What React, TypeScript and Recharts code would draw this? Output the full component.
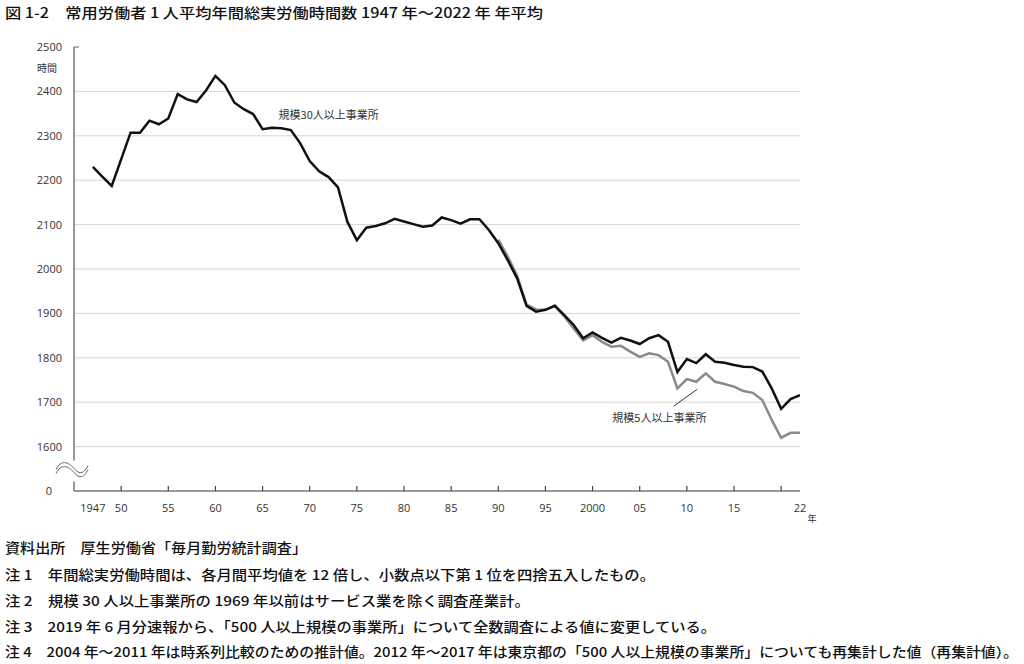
import React from "react";
import { LineChart, Line, XAxis, YAxis, ReferenceLine, ReferenceDot } from "recharts";

const years: number[] = [];
for (let y = 1947; y <= 2022; y++) years.push(y);

const large30: number[] = [
  2230, 2208, 2187, 2247, 2307, 2307, 2334, 2326, 2339, 2394,
  2382, 2376, 2402, 2435, 2414, 2375, 2360, 2349, 2315, 2318,
  2317, 2313, 2283, 2243, 2220, 2207, 2184, 2106, 2065, 2093,
  2097, 2103, 2113, 2107, 2101, 2095, 2098, 2116, 2110, 2102,
  2112, 2112, 2088, 2058, 2020, 1979, 1917, 1904, 1908, 1917,
  1896, 1874, 1844, 1857, 1845, 1834, 1845, 1839, 1831, 1844,
  1851, 1836, 1768, 1797, 1788, 1808, 1791, 1789, 1784, 1780,
  1779, 1769, 1731, 1685, 1707, 1716,
];

const small5Start = 1990;
const small5: number[] = [
  2066, 2028, 1985, 1920, 1909, 1908, 1917, 1893, 1866, 1839,
  1851, 1836, 1825, 1827, 1814, 1802, 1810, 1806, 1791, 1731,
  1752, 1746, 1765, 1746, 1741, 1735, 1725, 1721, 1705, 1660,
  1620, 1631, 1631,
];

const xTicks = [1947, 1950, 1955, 1960, 1965, 1970, 1975, 1980, 1985, 1990, 1995, 2000, 2005, 2010, 2015, 2020, 2022];
const xTickLabels: Record<number, string> = {
  1947: "1947", 1950: "50", 1955: "55", 1960: "60", 1965: "65", 1970: "70", 1975: "75",
  1980: "80", 1985: "85", 1990: "90", 1995: "95", 2000: "2000", 2005: "05", 2010: "10",
  2015: "15", 2020: "", 2022: "22",
};
const yTicks = [1500, 1600, 1700, 1800, 1900, 2000, 2100, 2200, 2300, 2400, 2500];
const gridValues = [1600, 1700, 1800, 1900, 2000, 2100, 2200, 2300, 2400];

const title = "図 1-2　常用労働者 1 人平均年間総実労働時間数 1947 年～2022 年 年平均";
const notes = [
  "資料出所　厚生労働省「毎月勤労統計調査」",
  "注 1　年間総実労働時間は、各月間平均値を 12 倍し、小数点以下第 1 位を四捨五入したもの。",
  "注 2　規模 30 人以上事業所の 1969 年以前はサービス業を除く調査産業計。",
  "注 3　2019 年 6 月分速報から、「500 人以上規模の事業所」について全数調査による値に変更している。",
  "注 4　2004 年～2011 年は時系列比較のための推計値。2012 年～2017 年は東京都の「500 人以上規模の事業所」についても再集計した値（再集計値）。",
];
const noteWidths = [302, 650, 525, 711, 1013];
const noteBaselines = [553, 580, 606, 632, 657];

const data = years.map((y, i) => ({
  year: y,
  large: large30[i],
  small: y >= small5Start ? small5[y - small5Start] : null,
}));

const NUM_FONT = '"Open Sans", "Noto Sans CJK JP", sans-serif';
const JP_FONT = '"Noto Sans CJK JP", sans-serif';

const XTick = (props: any) => {
  const { x, y, payload } = props;
  const v = payload.value as number;
  const showTick = v % 5 === 0;
  return (
    <g>
      {showTick && <line x1={x} x2={x} y1={y - 5} y2={y} stroke="#444" strokeWidth={1.2} />}
      <text x={x} y={y + 21} textAnchor="middle" fontSize={11} fill="#333" fontFamily={NUM_FONT}>
        {xTickLabels[v]}
      </text>
      {v === 2022 && (
        <text x={x + 12} y={y + 31} textAnchor="middle" fontSize={9} fill="#333" fontFamily={JP_FONT}>
          年
        </text>
      )}
    </g>
  );
};

const YTick = (props: any) => {
  const { x, y, payload } = props;
  const v = payload.value as number;
  if (v === 1500) {
    return (
      <text x={x - 22} y={y + 4} textAnchor="end" fontSize={11} fill="#333" fontFamily={NUM_FONT}>
        0
      </text>
    );
  }
  return (
    <g>
      {v === 2500 && <line x1={x} x2={x + 5} y1={y} y2={y} stroke="#666" strokeWidth={1} />}
      <text x={x - 12} y={y + 4} textAnchor="end" fontSize={11} fill="#333" fontFamily={NUM_FONT}>
        {v}
      </text>
      {v === 2500 && (
        <text x={x - 37} y={y + 25} textAnchor="start" fontSize={10} fill="#333" fontFamily={JP_FONT}>
          時間
        </text>
      )}
    </g>
  );
};

const BreakMark = (props: any) => {
  const { cx, cy } = props;
  const w1 = `M ${cx - 18} ${cy + 2} C ${cx - 13} ${cy - 8}, ${cx - 6} ${cy - 6}, ${cx} ${cy + 1} S ${cx + 10} ${cy + 6}, ${cx + 14} ${cy - 2}`;
  const w2 = `M ${cx - 18} ${cy + 6} C ${cx - 13} ${cy - 4}, ${cx - 6} ${cy - 2}, ${cx} ${cy + 5} S ${cx + 10} ${cy + 10}, ${cx + 14} ${cy + 2}`;
  return (
    <g>
      <rect x={cx - 2.5} y={cy - 7} width={5} height={21} fill="#fff" />
      <path d={w1} fill="none" stroke="#666" strokeWidth={1} />
      <path d={w2} fill="none" stroke="#666" strokeWidth={1} />
    </g>
  );
};

const TextMark = (text: string) => (props: any) => {
  const { cx, cy } = props;
  return (
    <text x={cx} y={cy + 4} fontSize={11} fill="#333" fontFamily={JP_FONT}>
      {text}
    </text>
  );
};

export default function App() {
  return (
    <div style={{ position: "fixed", left: 0, top: 0, width: 1024, height: 664, background: "#fff", overflow: "hidden" }}>
      <svg width={1024} height={664} style={{ position: "absolute", left: 0, top: 0 }}>
        <text x={5} y={18} fontSize={14} fontWeight={500} fill="#111" fontFamily={JP_FONT} textLength={538} lengthAdjust="spacingAndGlyphs">
          {title}
        </text>
        {notes.map((n, i) => (
          <text key={i} x={5} y={noteBaselines[i]} fontSize={13.5} fontWeight={500} fill="#111" fontFamily={JP_FONT} textLength={noteWidths[i]} lengthAdjust="spacingAndGlyphs">
            {n}
          </text>
        ))}
      </svg>
      <div style={{ position: "absolute", left: 0, top: 0 }}>
        <LineChart width={1024} height={530} data={data} margin={{ top: 47, right: 224, bottom: 0, left: 0 }}>
          {gridValues.map((v) => (
            <ReferenceLine key={v} y={v} stroke="#d6d6d6" strokeWidth={1} />
          ))}
          <XAxis
            dataKey="year"
            type="number"
            domain={[1945, 2022]}
            ticks={xTicks}
            interval={0}
            tick={<XTick />}
            tickLine={false}
            tickSize={0}
            tickMargin={0}
            height={39}
            axisLine={{ stroke: "#777", strokeWidth: 1.5 }}
            allowDataOverflow
          />
          <YAxis
            type="number"
            domain={[1500, 2500]}
            ticks={yTicks}
            interval={0}
            tick={<YTick />}
            tickLine={false}
            tickSize={0}
            tickMargin={0}
            width={74}
            axisLine={{ stroke: "#777", strokeWidth: 1.5 }}
            allowDataOverflow
          />
          <Line dataKey="small" stroke="#8a8a8a" strokeWidth={2.5} dot={false} isAnimationActive={false} connectNulls={false} />
          <Line dataKey="large" stroke="#111" strokeWidth={2.5} dot={false} isAnimationActive={false} />
          <ReferenceLine
            segment={[{ x: 2008.6, y: 1691 }, { x: 2011.1, y: 1729 }]}
            stroke="#333"
            strokeWidth={1}
          />
          <ReferenceDot x={1966.7} y={2347} r={0} shape={TextMark("規模30人以上事業所")} ifOverflow="visible" />
          <ReferenceDot x={2002.1} y={1664} r={0} shape={TextMark("規模5人以上事業所")} ifOverflow="visible" />
          <ReferenceDot x={1945} y={1553} r={0} shape={<BreakMark />} ifOverflow="visible" />
        </LineChart>
      </div>
    </div>
  );
}
